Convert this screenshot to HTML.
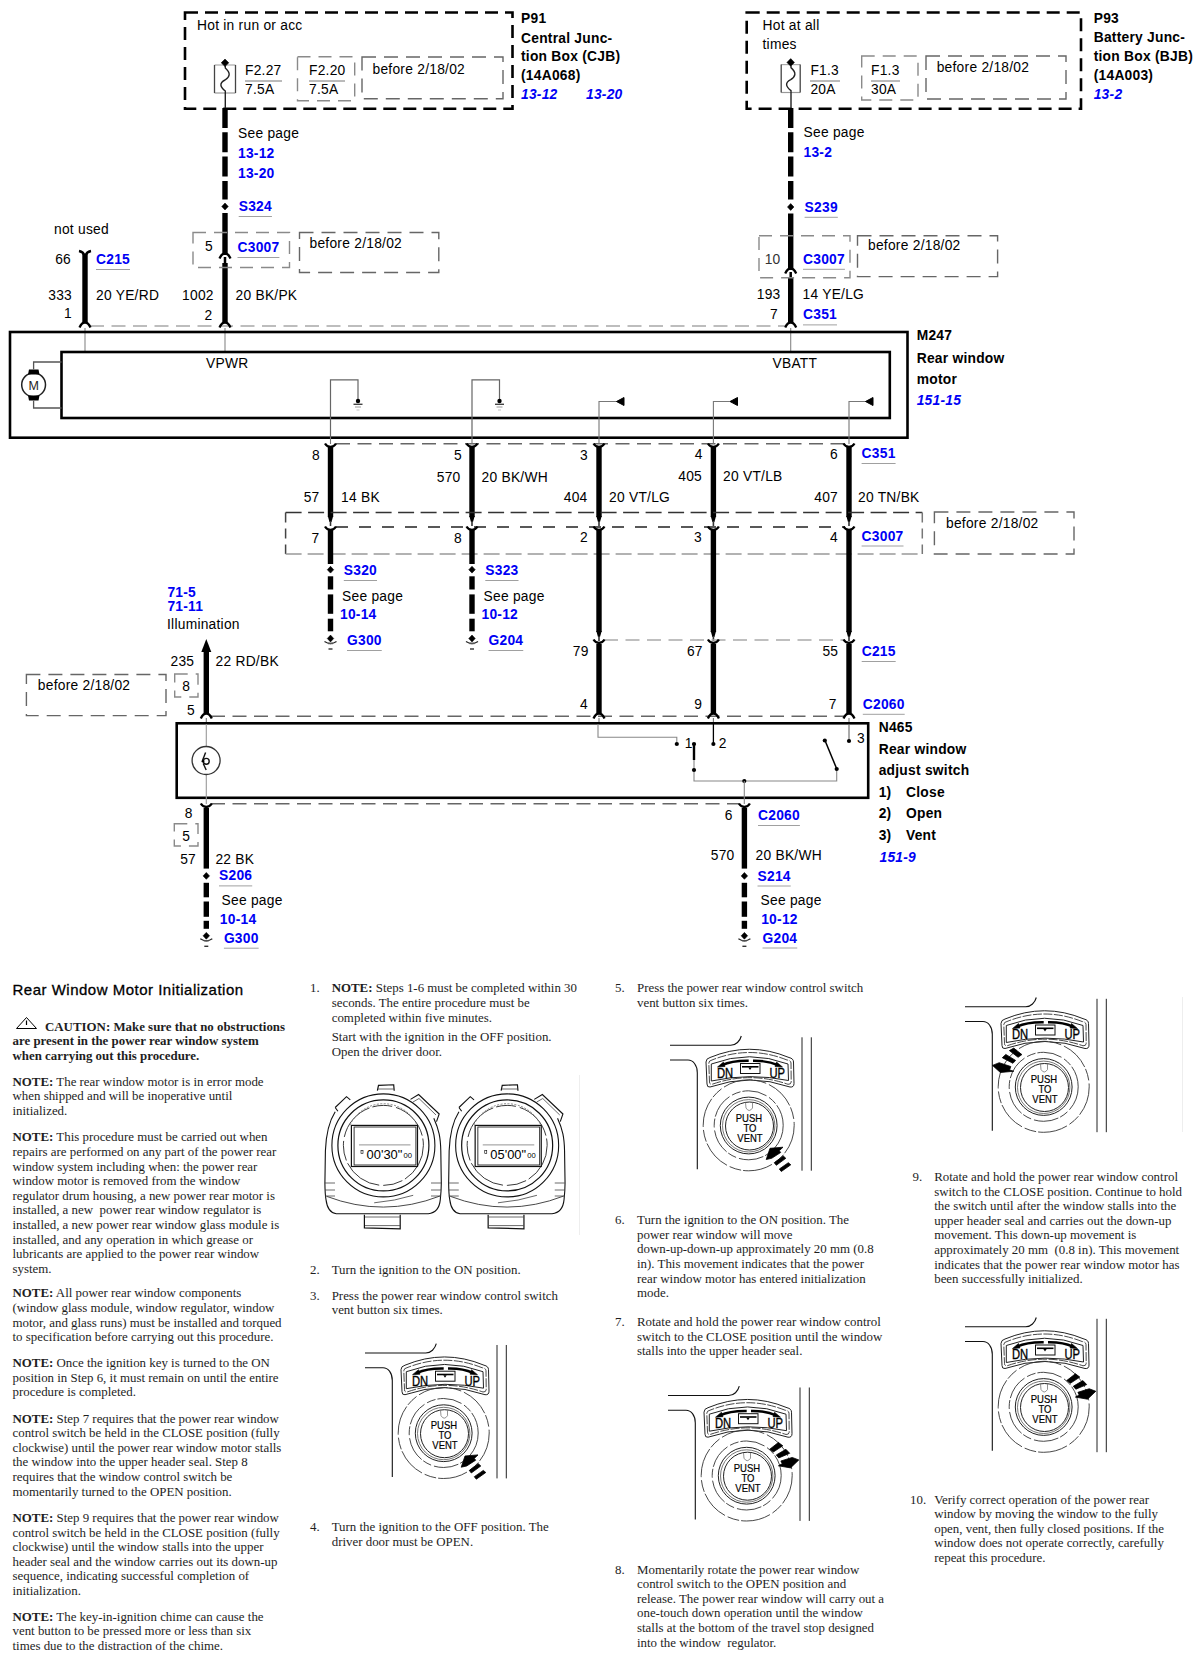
<!DOCTYPE html>
<html><head><meta charset="utf-8"><title>Rear Window Motor</title>
<style>
html,body{margin:0;padding:0;background:#fff;}
body{width:1200px;height:1659px;overflow:hidden;position:relative;}
svg{position:absolute;left:0;top:0;}
text{font-family:"Liberation Sans", sans-serif;}
</style></head><body>
<svg width="1200" height="1659" viewBox="0 0 1200 1659">
<rect x="0" y="0" width="1200" height="1659" fill="#fff"/>
<rect x="185" y="12.5" width="327.5" height="96.3" stroke="#000" stroke-width="2.6" fill="none" stroke-dasharray="13,7"/>
<text x="197" y="30" style="font-size:13.8px;letter-spacing:0.25px">Hot in run or acc</text>
<line x1="214.5" y1="65" x2="235.5" y2="65" stroke="#aaa" stroke-width="1.2"/>
<line x1="214.5" y1="93" x2="235.5" y2="93" stroke="#999" stroke-width="1.2"/>
<line x1="214.5" y1="65" x2="214.5" y2="93" stroke="#444" stroke-width="1.3"/>
<line x1="235.5" y1="65" x2="235.5" y2="93" stroke="#444" stroke-width="1.3"/>
<path d="M225.3,66 L225.3,68 C231,73 230,77 225,80 C219,83 220,87 225.3,91 L225.3,108.5" stroke="#222" stroke-width="1.4" fill="none"/>
<path d="M225,59 L228.8,62.8 L225,66.6 L221.2,62.8 Z" fill="#000" stroke="#000" stroke-width="0.5" stroke-linejoin="round"/>
<text x="245" y="75" style="font-size:13.8px;letter-spacing:0.25px">F2.27</text>
<line x1="245" y1="81" x2="282" y2="81" stroke="#777" stroke-width="1"/>
<text x="245" y="94" style="font-size:13.8px;letter-spacing:0.25px">7.5A</text>
<rect x="297.5" y="56.7" width="57.19999999999999" height="44.099999999999994" stroke="#8a8a8a" stroke-width="1.4" fill="none" stroke-dasharray="13,8"/>
<text x="309" y="75" style="font-size:13.8px;letter-spacing:0.25px">F2.20</text>
<line x1="309" y1="81" x2="345" y2="81" stroke="#777" stroke-width="1"/>
<text x="309" y="94" style="font-size:13.8px;letter-spacing:0.25px">7.5A</text>
<rect x="362" y="57" width="141" height="41.8" stroke="#666" stroke-width="1.4" fill="none" stroke-dasharray="14,8"/>
<text x="372.5" y="73.7" style="font-size:13.8px;letter-spacing:0.25px">before 2/18/02</text>
<text x="521" y="23" style="font-size:13.8px;letter-spacing:0.25px;font-weight:bold">P91</text>
<text x="521" y="42.5" style="font-size:13.8px;letter-spacing:0.25px;font-weight:bold">Central Junc-</text>
<text x="521" y="61" style="font-size:13.8px;letter-spacing:0.25px;font-weight:bold">tion Box (CJB)</text>
<text x="521" y="80" style="font-size:13.8px;letter-spacing:0.25px;font-weight:bold">(14A068)</text>
<text x="521" y="99" fill="#0000f5" style="font-size:13.8px;letter-spacing:0.25px;font-weight:bold;font-style:italic">13-12</text>
<text x="586" y="99" fill="#0000f5" style="font-size:13.8px;letter-spacing:0.25px;font-weight:bold;font-style:italic">13-20</text>
<rect x="746.7" y="12.5" width="334.29999999999995" height="96.3" stroke="#000" stroke-width="2.6" fill="none" stroke-dasharray="13,7"/>
<text x="762.5" y="29.7" style="font-size:13.8px;letter-spacing:0.25px">Hot at all</text>
<text x="762.5" y="48.7" style="font-size:13.8px;letter-spacing:0.25px">times</text>
<line x1="781.2" y1="64.6" x2="800.2" y2="64.6" stroke="#aaa" stroke-width="1.2"/>
<line x1="781.2" y1="92.5" x2="800.2" y2="92.5" stroke="#999" stroke-width="1.2"/>
<line x1="781.2" y1="64.6" x2="781.2" y2="92.5" stroke="#444" stroke-width="1.3"/>
<line x1="800.2" y1="64.6" x2="800.2" y2="92.5" stroke="#444" stroke-width="1.3"/>
<path d="M791.0,65.6 L791.0,67.6 C796.7,72.6 795.7,76.6 790.7,79.6 C784.7,82.6 785.7,86.6 791.0,90.6 L791.0,108.0" stroke="#222" stroke-width="1.4" fill="none"/>
<path d="M790.7,58.599999999999994 L794.5,62.39999999999999 L790.7,66.19999999999999 L786.9000000000001,62.39999999999999 Z" fill="#000" stroke="#000" stroke-width="0.5" stroke-linejoin="round"/>
<text x="810.4" y="75" style="font-size:13.8px;letter-spacing:0.25px">F1.3</text>
<line x1="810" y1="81" x2="840" y2="81" stroke="#777" stroke-width="1"/>
<text x="810.4" y="93.8" style="font-size:13.8px;letter-spacing:0.25px">20A</text>
<rect x="861.7" y="56" width="56.299999999999955" height="44" stroke="#8a8a8a" stroke-width="1.4" fill="none" stroke-dasharray="13,8"/>
<text x="871" y="75" style="font-size:13.8px;letter-spacing:0.25px">F1.3</text>
<line x1="871" y1="81" x2="900" y2="81" stroke="#777" stroke-width="1"/>
<text x="871" y="93.8" style="font-size:13.8px;letter-spacing:0.25px">30A</text>
<rect x="926" y="56" width="140" height="43" stroke="#666" stroke-width="1.4" fill="none" stroke-dasharray="14,8"/>
<text x="936.7" y="71.7" style="font-size:13.8px;letter-spacing:0.25px">before 2/18/02</text>
<text x="1093.7" y="23.2" style="font-size:13.8px;letter-spacing:0.25px;font-weight:bold">P93</text>
<text x="1093.7" y="42" style="font-size:13.8px;letter-spacing:0.25px;font-weight:bold">Battery Junc-</text>
<text x="1093.7" y="60.7" style="font-size:13.8px;letter-spacing:0.25px;font-weight:bold">tion Box (BJB)</text>
<text x="1093.7" y="80.3" style="font-size:13.8px;letter-spacing:0.25px;font-weight:bold">(14A003)</text>
<text x="1093.7" y="99" fill="#0000f5" style="font-size:13.8px;letter-spacing:0.25px;font-weight:bold;font-style:italic">13-2</text>
<line x1="225" y1="108" x2="225" y2="199.5" stroke="#000" stroke-width="5.4" stroke-dasharray="20,4.3"/>
<path d="M225,203.1 L228.2,206.5 L225,209.9 L221.8,206.5 Z" fill="#000" stroke="#000" stroke-width="0.6" stroke-linejoin="round"/>
<line x1="225" y1="213" x2="225" y2="255" stroke="#000" stroke-width="5.4"/>
<path d="M219.5,258.5 C221,255 223.5,253.5 225,253.5 C226.5,253.5 229,255 230.5,258.5" stroke="#000" stroke-width="2.3" fill="none"/>
<line x1="225" y1="257" x2="225" y2="263" stroke="#000" stroke-width="2.5"/>
<line x1="225" y1="263" x2="225" y2="323" stroke="#000" stroke-width="5.4"/>
<text x="238" y="137.5" style="font-size:13.8px;letter-spacing:0.25px">See page</text>
<text x="238" y="157.5" fill="#0000f5" style="font-size:13.8px;letter-spacing:0.25px;font-weight:bold">13-12</text>
<text x="238" y="177.5" fill="#0000f5" style="font-size:13.8px;letter-spacing:0.25px;font-weight:bold">13-20</text>
<text x="238.7" y="211" fill="#0000f5" style="font-size:13.8px;letter-spacing:0.25px;font-weight:bold">S324</text>
<line x1="238.7" y1="216.5" x2="271.92731249999997" y2="216.5" stroke="#a0a0a0" stroke-width="1"/>
<rect x="193" y="232.5" width="96.5" height="35.0" stroke="#8a8a8a" stroke-width="1.4" fill="none" stroke-dasharray="13,8"/>
<text x="205" y="251" style="font-size:13.8px;letter-spacing:0.25px">5</text>
<text x="237.5" y="252" fill="#0000f5" style="font-size:13.8px;letter-spacing:0.25px;font-weight:bold">C3007</text>
<line x1="237.5" y1="257.5" x2="279.41256250000004" y2="257.5" stroke="#a0a0a0" stroke-width="1"/>
<rect x="299.5" y="232.5" width="139.3" height="40.0" stroke="#666" stroke-width="1.4" fill="none" stroke-dasharray="14,8"/>
<text x="309.5" y="247.5" style="font-size:13.8px;letter-spacing:0.25px">before 2/18/02</text>
<text x="213.8" y="300" text-anchor="end" style="font-size:13.8px;letter-spacing:0.25px">1002</text>
<text x="235.5" y="300" style="font-size:13.8px;letter-spacing:0.25px">20 BK/PK</text>
<text x="212.5" y="320" text-anchor="end" style="font-size:13.8px;letter-spacing:0.25px">2</text>
<path d="M79,251 Q84,252 85,257 Q86,252 91,251" stroke="#000" stroke-width="2.4" fill="none"/>
<line x1="85" y1="254" x2="85" y2="323" stroke="#000" stroke-width="5.4"/>
<text x="54" y="233.6" style="font-size:13.8px;letter-spacing:0.25px">not used</text>
<text x="71" y="264" text-anchor="end" style="font-size:13.8px;letter-spacing:0.25px">66</text>
<text x="96" y="264" fill="#0000f5" style="font-size:13.8px;letter-spacing:0.25px;font-weight:bold">C215</text>
<line x1="96" y1="269.5" x2="129.98846875" y2="269.5" stroke="#a0a0a0" stroke-width="1"/>
<text x="72" y="299.6" text-anchor="end" style="font-size:13.8px;letter-spacing:0.25px">333</text>
<text x="96" y="300" style="font-size:13.8px;letter-spacing:0.25px">20 YE/RD</text>
<text x="72" y="318" text-anchor="end" style="font-size:13.8px;letter-spacing:0.25px">1</text>
<line x1="790.7" y1="108" x2="790.7" y2="199.5" stroke="#000" stroke-width="5.4" stroke-dasharray="20,4.3"/>
<path d="M790.7,203.6 L793.9000000000001,207 L790.7,210.4 L787.5,207 Z" fill="#000" stroke="#000" stroke-width="0.6" stroke-linejoin="round"/>
<line x1="790.7" y1="213.5" x2="790.7" y2="270" stroke="#000" stroke-width="5.4"/>
<path d="M785.2,273.5 C786.7,270 789.2,268.5 790.7,268.5 C792.2,268.5 794.7,270 796.2,273.5" stroke="#000" stroke-width="2.3" fill="none"/>
<line x1="790.7" y1="272" x2="790.7" y2="278" stroke="#000" stroke-width="2.5"/>
<line x1="790.7" y1="278" x2="790.7" y2="323" stroke="#000" stroke-width="5.4"/>
<text x="803.5" y="137" style="font-size:13.8px;letter-spacing:0.25px">See page</text>
<text x="803.5" y="157.4" fill="#0000f5" style="font-size:13.8px;letter-spacing:0.25px;font-weight:bold">13-2</text>
<text x="804.6" y="211.8" fill="#0000f5" style="font-size:13.8px;letter-spacing:0.25px;font-weight:bold">S239</text>
<line x1="804.6" y1="217.3" x2="837.8273125000001" y2="217.3" stroke="#a0a0a0" stroke-width="1"/>
<rect x="759" y="235.7" width="91" height="42.10000000000002" stroke="#8a8a8a" stroke-width="1.4" fill="none" stroke-dasharray="13,8"/>
<text x="764.7" y="264.3" fill="#333" style="font-size:13.8px;letter-spacing:0.25px">10</text>
<text x="803" y="263.8" fill="#0000f5" style="font-size:13.8px;letter-spacing:0.25px;font-weight:bold">C3007</text>
<line x1="803" y1="269.3" x2="844.9125625" y2="269.3" stroke="#a0a0a0" stroke-width="1"/>
<rect x="857.5" y="235.7" width="140.10000000000002" height="40.900000000000034" stroke="#666" stroke-width="1.4" fill="none" stroke-dasharray="14,8"/>
<text x="868" y="249.6" style="font-size:13.8px;letter-spacing:0.25px">before 2/18/02</text>
<text x="780.5" y="299" text-anchor="end" style="font-size:13.8px;letter-spacing:0.25px">193</text>
<text x="802.5" y="299" style="font-size:13.8px;letter-spacing:0.25px">14 YE/LG</text>
<text x="778" y="319.4" text-anchor="end" style="font-size:13.8px;letter-spacing:0.25px">7</text>
<text x="803" y="319.4" fill="#0000f5" style="font-size:13.8px;letter-spacing:0.25px;font-weight:bold">C351</text>
<line x1="803" y1="324.9" x2="836.98846875" y2="324.9" stroke="#a0a0a0" stroke-width="1"/>
<line x1="90" y1="326" x2="786" y2="326" stroke="#a8a8a8" stroke-width="1.6" stroke-dasharray="14,7.5"/>
<path d="M79.5,327.5 C81,324 83.5,322.5 85,322.5 C86.5,322.5 89,324 90.5,327.5" stroke="#000" stroke-width="2.3" fill="none"/>
<line x1="85" y1="328" x2="85" y2="352" stroke="#888" stroke-width="1.1"/>
<path d="M219.5,327.5 C221,324 223.5,322.5 225,322.5 C226.5,322.5 229,324 230.5,327.5" stroke="#000" stroke-width="2.3" fill="none"/>
<line x1="225" y1="328" x2="225" y2="352" stroke="#888" stroke-width="1.1"/>
<path d="M785.2,327.5 C786.7,324 789.2,322.5 790.7,322.5 C792.2,322.5 794.7,324 796.2,327.5" stroke="#000" stroke-width="2.3" fill="none"/>
<line x1="790.7" y1="328" x2="790.7" y2="352" stroke="#888" stroke-width="1.1"/>
<rect x="10" y="332" width="897.5" height="105.69999999999999" stroke="#000" stroke-width="2.6" fill="none"/>
<rect x="61.5" y="352" width="828.3" height="66" stroke="#000" stroke-width="2.6" fill="none"/>
<text x="206" y="368" style="font-size:13.8px;letter-spacing:0.25px">VPWR</text>
<text x="772.5" y="368" style="font-size:13.8px;letter-spacing:0.25px">VBATT</text>
<text x="916.7" y="340" style="font-size:13.8px;letter-spacing:0.25px;font-weight:bold">M247</text>
<text x="916.7" y="363" style="font-size:13.8px;letter-spacing:0.25px;font-weight:bold">Rear window</text>
<text x="916.7" y="384" style="font-size:13.8px;letter-spacing:0.25px;font-weight:bold">motor</text>
<text x="916.7" y="405" fill="#0000f5" style="font-size:13.8px;letter-spacing:0.25px;font-weight:bold;font-style:italic">151-15</text>
<circle cx="33.6" cy="384.8" r="11.9" stroke="#222" stroke-width="1.5" fill="none"/>
<text x="33.6" y="390" text-anchor="middle" fill="#222" style="font-size:12.5px;letter-spacing:0px">M</text>
<path d="M29,369.5 L38.5,369.5 L39.5,374.5 L28,374.5 Z" fill="#000"/>
<path d="M28,395.5 L39.5,395.5 L38.5,400.5 L29,400.5 Z" fill="#000"/>
<path d="M33.6,369.5 L33.6,362 L61.5,362" stroke="#555" stroke-width="1.3" fill="none"/>
<path d="M33.6,400.5 L33.6,408 L61.5,408" stroke="#555" stroke-width="1.3" fill="none"/>
<path d="M330.5,437 L330.5,379.9 L358,379.9 L358,399" stroke="#666" stroke-width="1.2" fill="none"/>
<circle cx="358" cy="401" r="2.2" fill="#000"/>
<line x1="353.5" y1="404.3" x2="362.5" y2="404.3" stroke="#444" stroke-width="1.4"/>
<line x1="355" y1="407" x2="361" y2="407" stroke="#aaa" stroke-width="1.2"/>
<line x1="356.5" y1="410" x2="359.5" y2="410" stroke="#ccc" stroke-width="1.2"/>
<path d="M472,437 L472,379.9 L499.5,379.9 L499.5,399" stroke="#666" stroke-width="1.2" fill="none"/>
<circle cx="499.5" cy="401" r="2.2" fill="#000"/>
<line x1="495.0" y1="404.3" x2="504.0" y2="404.3" stroke="#444" stroke-width="1.4"/>
<line x1="496.5" y1="407" x2="502.5" y2="407" stroke="#aaa" stroke-width="1.2"/>
<line x1="498.0" y1="410" x2="501.0" y2="410" stroke="#ccc" stroke-width="1.2"/>
<path d="M599,437 L599,401.5 L618,401.5" stroke="#777" stroke-width="1.1" fill="none"/>
<path d="M616.5,401.5 L624,397.5 L624,405.5 Z" fill="#000" stroke="#000" stroke-width="1" stroke-linejoin="round"/>
<path d="M713.4,437 L713.4,401.5 L731.5,401.5" stroke="#777" stroke-width="1.1" fill="none"/>
<path d="M730.0,401.5 L737.5,397.5 L737.5,405.5 Z" fill="#000" stroke="#000" stroke-width="1" stroke-linejoin="round"/>
<path d="M849,437 L849,401.5 L867,401.5" stroke="#777" stroke-width="1.1" fill="none"/>
<path d="M865.5,401.5 L873,397.5 L873,405.5 Z" fill="#000" stroke="#000" stroke-width="1" stroke-linejoin="round"/>
<line x1="336" y1="443.8" x2="845" y2="443.8" stroke="#666" stroke-width="1.6" stroke-dasharray="14,7.5"/>
<line x1="330.5" y1="437" x2="330.5" y2="444" stroke="#777" stroke-width="1.1"/>
<path d="M325.0,443.5 C326.5,446 329.0,447 330.5,447 C332.0,447 334.5,446 336.0,443.5" stroke="#000" stroke-width="2.3" fill="none"/>
<line x1="472" y1="437" x2="472" y2="444" stroke="#777" stroke-width="1.1"/>
<path d="M466.5,443.5 C468,446 470.5,447 472,447 C473.5,447 476,446 477.5,443.5" stroke="#000" stroke-width="2.3" fill="none"/>
<line x1="599" y1="437" x2="599" y2="444" stroke="#777" stroke-width="1.1"/>
<path d="M593.5,443.5 C595,446 597.5,447 599,447 C600.5,447 603,446 604.5,443.5" stroke="#000" stroke-width="2.3" fill="none"/>
<line x1="713.4" y1="437" x2="713.4" y2="444" stroke="#777" stroke-width="1.1"/>
<path d="M707.9,443.5 C709.4,446 711.9,447 713.4,447 C714.9,447 717.4,446 718.9,443.5" stroke="#000" stroke-width="2.3" fill="none"/>
<line x1="849" y1="437" x2="849" y2="444" stroke="#777" stroke-width="1.1"/>
<path d="M843.5,443.5 C845,446 847.5,447 849,447 C850.5,447 853,446 854.5,443.5" stroke="#000" stroke-width="2.3" fill="none"/>
<text x="320" y="460" text-anchor="end" style="font-size:13.8px;letter-spacing:0.25px">8</text>
<text x="462" y="460" text-anchor="end" style="font-size:13.8px;letter-spacing:0.25px">5</text>
<text x="588" y="460" text-anchor="end" style="font-size:13.8px;letter-spacing:0.25px">3</text>
<text x="702.6" y="459" text-anchor="end" style="font-size:13.8px;letter-spacing:0.25px">4</text>
<text x="838" y="459" text-anchor="end" style="font-size:13.8px;letter-spacing:0.25px">6</text>
<text x="861.6" y="458" fill="#0000f5" style="font-size:13.8px;letter-spacing:0.25px;font-weight:bold">C351</text>
<line x1="861.6" y1="463.5" x2="895.5884687500001" y2="463.5" stroke="#a0a0a0" stroke-width="1"/>
<text x="460.5" y="481.6" text-anchor="end" style="font-size:13.8px;letter-spacing:0.25px">570</text>
<text x="481.5" y="481.6" style="font-size:13.8px;letter-spacing:0.25px">20 BK/WH</text>
<text x="702" y="480.5" text-anchor="end" style="font-size:13.8px;letter-spacing:0.25px">405</text>
<text x="723" y="480.5" style="font-size:13.8px;letter-spacing:0.25px">20 VT/LB</text>
<text x="319.5" y="502" text-anchor="end" style="font-size:13.8px;letter-spacing:0.25px">57</text>
<text x="341" y="502" style="font-size:13.8px;letter-spacing:0.25px">14 BK</text>
<text x="587.5" y="502" text-anchor="end" style="font-size:13.8px;letter-spacing:0.25px">404</text>
<text x="609" y="502" style="font-size:13.8px;letter-spacing:0.25px">20 VT/LG</text>
<text x="838" y="502" text-anchor="end" style="font-size:13.8px;letter-spacing:0.25px">407</text>
<text x="858" y="502" style="font-size:13.8px;letter-spacing:0.25px">20 TN/BK</text>
<line x1="330.5" y1="447" x2="330.5" y2="517" stroke="#000" stroke-width="5.4"/>
<path d="M327.8,516 L333.2,516 L331.5,522 L329.5,522 Z" fill="#000"/>
<line x1="330.5" y1="521" x2="330.5" y2="526" stroke="#333" stroke-width="1.6"/>
<line x1="472" y1="447" x2="472" y2="517" stroke="#000" stroke-width="5.4"/>
<path d="M469.3,516 L474.7,516 L473,522 L471,522 Z" fill="#000"/>
<line x1="472" y1="521" x2="472" y2="526" stroke="#333" stroke-width="1.6"/>
<line x1="599" y1="447" x2="599" y2="517" stroke="#000" stroke-width="5.4"/>
<path d="M596.3,516 L601.7,516 L600,522 L598,522 Z" fill="#000"/>
<line x1="599" y1="521" x2="599" y2="526" stroke="#333" stroke-width="1.6"/>
<line x1="713.4" y1="447" x2="713.4" y2="517" stroke="#000" stroke-width="5.4"/>
<path d="M710.6999999999999,516 L716.1,516 L714.4,522 L712.4,522 Z" fill="#000"/>
<line x1="713.4" y1="521" x2="713.4" y2="526" stroke="#333" stroke-width="1.6"/>
<line x1="849" y1="447" x2="849" y2="517" stroke="#000" stroke-width="5.4"/>
<path d="M846.3,516 L851.7,516 L850,522 L848,522 Z" fill="#000"/>
<line x1="849" y1="521" x2="849" y2="526" stroke="#333" stroke-width="1.6"/>
<line x1="285.6" y1="512.5" x2="922.3" y2="512.5" stroke="#333" stroke-width="1.5" stroke-dasharray="16,6.5"/>
<line x1="285.6" y1="512.5" x2="285.6" y2="554" stroke="#444" stroke-width="1.5" stroke-dasharray="10,6"/>
<line x1="285.6" y1="554" x2="922.3" y2="554" stroke="#999" stroke-width="1.5" stroke-dasharray="16,6"/>
<line x1="922.3" y1="512.5" x2="922.3" y2="554" stroke="#777" stroke-width="1.5" stroke-dasharray="10,6"/>
<line x1="336" y1="527" x2="845" y2="527" stroke="#222" stroke-width="1.5" stroke-dasharray="12,11"/>
<path d="M325.0,526.5 C326.5,529 329.0,530 330.5,530 C332.0,530 334.5,529 336.0,526.5" stroke="#000" stroke-width="2.3" fill="none"/>
<path d="M466.5,526.5 C468,529 470.5,530 472,530 C473.5,530 476,529 477.5,526.5" stroke="#000" stroke-width="2.3" fill="none"/>
<path d="M593.5,526.5 C595,529 597.5,530 599,530 C600.5,530 603,529 604.5,526.5" stroke="#000" stroke-width="2.3" fill="none"/>
<path d="M707.9,526.5 C709.4,529 711.9,530 713.4,530 C714.9,530 717.4,529 718.9,526.5" stroke="#000" stroke-width="2.3" fill="none"/>
<path d="M843.5,526.5 C845,529 847.5,530 849,530 C850.5,530 853,529 854.5,526.5" stroke="#000" stroke-width="2.3" fill="none"/>
<text x="319.5" y="542.5" text-anchor="end" style="font-size:13.8px;letter-spacing:0.25px">7</text>
<text x="462" y="542.5" text-anchor="end" style="font-size:13.8px;letter-spacing:0.25px">8</text>
<text x="588" y="542" text-anchor="end" style="font-size:13.8px;letter-spacing:0.25px">2</text>
<text x="702" y="542" text-anchor="end" style="font-size:13.8px;letter-spacing:0.25px">3</text>
<text x="838" y="542" text-anchor="end" style="font-size:13.8px;letter-spacing:0.25px">4</text>
<text x="861.6" y="540.5" fill="#0000f5" style="font-size:13.8px;letter-spacing:0.25px;font-weight:bold">C3007</text>
<line x1="861.6" y1="546.0" x2="903.5125625000001" y2="546.0" stroke="#a0a0a0" stroke-width="1"/>
<rect x="934.4" y="512" width="139.60000000000002" height="42" stroke="#666" stroke-width="1.4" fill="none" stroke-dasharray="14,8"/>
<text x="946" y="527.5" style="font-size:13.8px;letter-spacing:0.25px">before 2/18/02</text>
<line x1="330.5" y1="530" x2="330.5" y2="564" stroke="#000" stroke-width="5.4"/>
<path d="M330.5,566.3000000000001 L333.7,569.7 L330.5,573.1 L327.3,569.7 Z" fill="#000" stroke="#000" stroke-width="0.6" stroke-linejoin="round"/>
<line x1="330.5" y1="576.3" x2="330.5" y2="589.5" stroke="#000" stroke-width="5.4"/>
<line x1="330.5" y1="594.4" x2="330.5" y2="613.8" stroke="#000" stroke-width="5.4"/>
<line x1="330.5" y1="618.7" x2="330.5" y2="631.3" stroke="#000" stroke-width="5.4"/>
<path d="M330.5,635.1 L333.7,638.5 L330.5,641.9 L327.3,638.5 Z" fill="#000" stroke="#000" stroke-width="0.6" stroke-linejoin="round"/>
<path d="M324.5,641.5 Q330.5,645.5 336.5,641.5" stroke="#222" stroke-width="1.3" fill="none"/>
<line x1="328.0" y1="643.5" x2="333.0" y2="643.5" stroke="#555" stroke-width="1.4"/>
<line x1="328.5" y1="649.0" x2="332.5" y2="649.0" stroke="#333" stroke-width="1.4"/>
<text x="343.8" y="575" fill="#0000f5" style="font-size:13.8px;letter-spacing:0.25px;font-weight:bold">S320</text>
<line x1="343.8" y1="580.5" x2="377.0273125" y2="580.5" stroke="#a0a0a0" stroke-width="1"/>
<text x="342.0" y="600.7" style="font-size:13.8px;letter-spacing:0.25px">See page</text>
<text x="340.0" y="619" fill="#0000f5" style="font-size:13.8px;letter-spacing:0.25px;font-weight:bold">10-14</text>
<text x="347.0" y="645" fill="#0000f5" style="font-size:13.8px;letter-spacing:0.25px;font-weight:bold">G300</text>
<line x1="347.0" y1="650.5" x2="381.75609375" y2="650.5" stroke="#a0a0a0" stroke-width="1"/>
<line x1="472" y1="530" x2="472" y2="564" stroke="#000" stroke-width="5.4"/>
<path d="M472,566.3000000000001 L475.2,569.7 L472,573.1 L468.8,569.7 Z" fill="#000" stroke="#000" stroke-width="0.6" stroke-linejoin="round"/>
<line x1="472" y1="576.3" x2="472" y2="589.5" stroke="#000" stroke-width="5.4"/>
<line x1="472" y1="594.4" x2="472" y2="613.8" stroke="#000" stroke-width="5.4"/>
<line x1="472" y1="618.7" x2="472" y2="631.3" stroke="#000" stroke-width="5.4"/>
<path d="M472,635.1 L475.2,638.5 L472,641.9 L468.8,638.5 Z" fill="#000" stroke="#000" stroke-width="0.6" stroke-linejoin="round"/>
<path d="M466,641.5 Q472,645.5 478,641.5" stroke="#222" stroke-width="1.3" fill="none"/>
<line x1="469.5" y1="643.5" x2="474.5" y2="643.5" stroke="#555" stroke-width="1.4"/>
<line x1="470" y1="649.0" x2="474" y2="649.0" stroke="#333" stroke-width="1.4"/>
<text x="485.3" y="575" fill="#0000f5" style="font-size:13.8px;letter-spacing:0.25px;font-weight:bold">S323</text>
<line x1="485.3" y1="580.5" x2="518.5273125" y2="580.5" stroke="#a0a0a0" stroke-width="1"/>
<text x="483.5" y="600.7" style="font-size:13.8px;letter-spacing:0.25px">See page</text>
<text x="481.5" y="619" fill="#0000f5" style="font-size:13.8px;letter-spacing:0.25px;font-weight:bold">10-12</text>
<text x="488.5" y="645" fill="#0000f5" style="font-size:13.8px;letter-spacing:0.25px;font-weight:bold">G204</text>
<line x1="488.5" y1="650.5" x2="523.25609375" y2="650.5" stroke="#a0a0a0" stroke-width="1"/>
<line x1="599" y1="530" x2="599" y2="632" stroke="#000" stroke-width="5.4"/>
<path d="M596.3,631 L601.7,631 L600,637 L598,637 Z" fill="#000"/>
<line x1="599" y1="636" x2="599" y2="641" stroke="#333" stroke-width="1.6"/>
<line x1="713.4" y1="530" x2="713.4" y2="632" stroke="#000" stroke-width="5.4"/>
<path d="M710.6999999999999,631 L716.1,631 L714.4,637 L712.4,637 Z" fill="#000"/>
<line x1="713.4" y1="636" x2="713.4" y2="641" stroke="#333" stroke-width="1.6"/>
<line x1="849" y1="530" x2="849" y2="632" stroke="#000" stroke-width="5.4"/>
<path d="M846.3,631 L851.7,631 L850,637 L848,637 Z" fill="#000"/>
<line x1="849" y1="636" x2="849" y2="641" stroke="#333" stroke-width="1.6"/>
<line x1="604" y1="640" x2="845" y2="640" stroke="#aaa" stroke-width="1.6" stroke-dasharray="14,7.5"/>
<path d="M593.5,639.5 C595,642 597.5,643 599,643 C600.5,643 603,642 604.5,639.5" stroke="#000" stroke-width="2.3" fill="none"/>
<line x1="599" y1="644" x2="599" y2="713" stroke="#000" stroke-width="5.4"/>
<path d="M707.9,639.5 C709.4,642 711.9,643 713.4,643 C714.9,643 717.4,642 718.9,639.5" stroke="#000" stroke-width="2.3" fill="none"/>
<line x1="713.4" y1="644" x2="713.4" y2="713" stroke="#000" stroke-width="5.4"/>
<path d="M843.5,639.5 C845,642 847.5,643 849,643 C850.5,643 853,642 854.5,639.5" stroke="#000" stroke-width="2.3" fill="none"/>
<line x1="849" y1="644" x2="849" y2="713" stroke="#000" stroke-width="5.4"/>
<text x="588.7" y="656.3" text-anchor="end" style="font-size:13.8px;letter-spacing:0.25px">79</text>
<text x="702.8" y="656.3" text-anchor="end" style="font-size:13.8px;letter-spacing:0.25px">67</text>
<text x="838.3" y="656.3" text-anchor="end" style="font-size:13.8px;letter-spacing:0.25px">55</text>
<text x="861.7" y="656" fill="#0000f5" style="font-size:13.8px;letter-spacing:0.25px;font-weight:bold">C215</text>
<line x1="861.7" y1="661.5" x2="895.6884687500001" y2="661.5" stroke="#a0a0a0" stroke-width="1"/>
<text x="588" y="708.8" text-anchor="end" style="font-size:13.8px;letter-spacing:0.25px">4</text>
<text x="702.3" y="708.8" text-anchor="end" style="font-size:13.8px;letter-spacing:0.25px">9</text>
<text x="836.7" y="708.8" text-anchor="end" style="font-size:13.8px;letter-spacing:0.25px">7</text>
<text x="862.8" y="708.8" fill="#0000f5" style="font-size:13.8px;letter-spacing:0.25px;font-weight:bold">C2060</text>
<line x1="862.8" y1="714.3" x2="904.7125625" y2="714.3" stroke="#a0a0a0" stroke-width="1"/>
<path d="M206.3,639 L211.3,652 L201.3,652 Z" fill="#000"/>
<line x1="206.3" y1="650" x2="206.3" y2="713" stroke="#000" stroke-width="5.4"/>
<text x="167.4" y="596.5" fill="#0000f5" style="font-size:13.8px;letter-spacing:0.25px;font-weight:bold">71-5</text>
<text x="167.4" y="611" fill="#0000f5" style="font-size:13.8px;letter-spacing:0.25px;font-weight:bold">71-11</text>
<text x="167" y="629" style="font-size:13.8px;letter-spacing:0.25px">Illumination</text>
<text x="194.3" y="665.6" text-anchor="end" style="font-size:13.8px;letter-spacing:0.25px">235</text>
<text x="215.5" y="665.6" style="font-size:13.8px;letter-spacing:0.25px">22 RD/BK</text>
<rect x="174.7" y="674" width="23.30000000000001" height="23" stroke="#8a8a8a" stroke-width="1.4" fill="none" stroke-dasharray="13,8"/>
<text x="186.3" y="690.5" text-anchor="middle" style="font-size:13.8px;letter-spacing:0.25px">8</text>
<text x="195" y="714.7" text-anchor="end" style="font-size:13.8px;letter-spacing:0.25px">5</text>
<rect x="26.4" y="674.5" width="139.6" height="41.10000000000002" stroke="#666" stroke-width="1.4" fill="none" stroke-dasharray="14,8"/>
<text x="37.8" y="690.2" style="font-size:13.8px;letter-spacing:0.25px">before 2/18/02</text>
<line x1="211" y1="716.3" x2="845" y2="716.3" stroke="#666" stroke-width="1.6" stroke-dasharray="14,7.5"/>
<path d="M200.8,718.5 C202.3,715 204.8,713.5 206.3,713.5 C207.8,713.5 210.3,715 211.8,718.5" stroke="#000" stroke-width="2.3" fill="none"/>
<line x1="206.3" y1="718" x2="206.3" y2="724" stroke="#777" stroke-width="1.1"/>
<path d="M593.5,718.5 C595,715 597.5,713.5 599,713.5 C600.5,713.5 603,715 604.5,718.5" stroke="#000" stroke-width="2.3" fill="none"/>
<line x1="599" y1="718" x2="599" y2="724" stroke="#777" stroke-width="1.1"/>
<path d="M707.9,718.5 C709.4,715 711.9,713.5 713.4,713.5 C714.9,713.5 717.4,715 718.9,718.5" stroke="#000" stroke-width="2.3" fill="none"/>
<line x1="713.4" y1="718" x2="713.4" y2="724" stroke="#777" stroke-width="1.1"/>
<path d="M843.5,718.5 C845,715 847.5,713.5 849,713.5 C850.5,713.5 853,715 854.5,718.5" stroke="#000" stroke-width="2.3" fill="none"/>
<line x1="849" y1="718" x2="849" y2="724" stroke="#777" stroke-width="1.1"/>
<rect x="176.7" y="723.3" width="691.5" height="74.5" stroke="#000" stroke-width="2.6" fill="none"/>
<line x1="206.3" y1="724" x2="206.3" y2="746.5" stroke="#999" stroke-width="1.1"/>
<line x1="206.3" y1="774.5" x2="206.3" y2="804" stroke="#999" stroke-width="1.1"/>
<circle cx="206.1" cy="760.5" r="14" stroke="#333" stroke-width="1.3" fill="none"/>
<path d="M205.6,752.4 L202.4,760.8" stroke="#111" stroke-width="1.4" fill="none"/>
<path d="M203.2,763.5 L206.2,770" stroke="#111" stroke-width="1.4" fill="none"/>
<circle cx="206.3" cy="761.3" r="2.9" stroke="#111" stroke-width="1.4" fill="none"/>
<circle cx="202.9" cy="761.2" r="1.3" fill="#000"/>
<text x="878.7" y="732" style="font-size:13.8px;letter-spacing:0.25px;font-weight:bold">N465</text>
<text x="878.7" y="753.5" style="font-size:13.8px;letter-spacing:0.25px;font-weight:bold">Rear window</text>
<text x="878.7" y="775" style="font-size:13.8px;letter-spacing:0.25px;font-weight:bold">adjust switch</text>
<text x="878.7" y="796.8" style="font-size:13.8px;letter-spacing:0.25px;font-weight:bold">1)</text>
<text x="906" y="796.8" style="font-size:13.8px;letter-spacing:0.25px;font-weight:bold">Close</text>
<text x="878.7" y="817.8" style="font-size:13.8px;letter-spacing:0.25px;font-weight:bold">2)</text>
<text x="906" y="817.8" style="font-size:13.8px;letter-spacing:0.25px;font-weight:bold">Open</text>
<text x="878.7" y="840" style="font-size:13.8px;letter-spacing:0.25px;font-weight:bold">3)</text>
<text x="906" y="840" style="font-size:13.8px;letter-spacing:0.25px;font-weight:bold">Vent</text>
<text x="879.5" y="862" fill="#0000f5" style="font-size:13.8px;letter-spacing:0.25px;font-weight:bold;font-style:italic">151-9</text>
<path d="M598,724 L598,737.3 L676.8,737.3 L676.8,744" stroke="#888" stroke-width="1.1" fill="none"/>
<circle cx="676.8" cy="744" r="2.1" fill="#000"/>
<text x="684.8" y="747.5" style="font-size:13.8px;letter-spacing:0.25px">1</text>
<line x1="713.4" y1="724" x2="713.4" y2="744" stroke="#000" stroke-width="1.3"/>
<circle cx="713.4" cy="744" r="2.1" fill="#000"/>
<text x="718.8" y="747.5" style="font-size:13.8px;letter-spacing:0.25px">2</text>
<line x1="694" y1="744" x2="694" y2="760" stroke="#000" stroke-width="2.4"/>
<circle cx="694" cy="744" r="2.1" fill="#000"/>
<path d="M694,760 L694,781 L836.7,781 L836.7,769" stroke="#888" stroke-width="1.1" fill="none"/>
<circle cx="694" cy="770" r="2.1" fill="#000"/>
<circle cx="836.7" cy="769" r="2.1" fill="#000"/>
<circle cx="744.3" cy="781" r="2.1" fill="#000"/>
<line x1="824.8" y1="740" x2="836.7" y2="768.8" stroke="#000" stroke-width="1.5"/>
<circle cx="824.8" cy="740.5" r="2.1" fill="#000"/>
<line x1="849" y1="724" x2="849" y2="741" stroke="#666" stroke-width="1.1"/>
<circle cx="849" cy="741" r="2.1" fill="#000"/>
<text x="857" y="742.5" style="font-size:13.8px;letter-spacing:0.25px">3</text>
<line x1="744.3" y1="781" x2="744.3" y2="804" stroke="#888" stroke-width="1.1"/>
<line x1="211" y1="803.8" x2="739" y2="803.8" stroke="#666" stroke-width="1.6" stroke-dasharray="14,7.5"/>
<path d="M200.8,803.5 C202.3,806 204.8,807 206.3,807 C207.8,807 210.3,806 211.8,803.5" stroke="#000" stroke-width="2.3" fill="none"/>
<line x1="206.3" y1="808" x2="206.3" y2="868.6" stroke="#000" stroke-width="5.4"/>
<path d="M206.3,872.5 L209.5,875.9 L206.3,879.3 L203.10000000000002,875.9 Z" fill="#000" stroke="#000" stroke-width="0.6" stroke-linejoin="round"/>
<line x1="206.3" y1="882.8" x2="206.3" y2="897.3" stroke="#000" stroke-width="5.4"/>
<line x1="206.3" y1="901.5" x2="206.3" y2="916.8" stroke="#000" stroke-width="5.4"/>
<line x1="206.3" y1="920.8" x2="206.3" y2="928.8" stroke="#000" stroke-width="5.4"/>
<path d="M206.3,932.4 L209.5,935.8 L206.3,939.1999999999999 L203.10000000000002,935.8 Z" fill="#000" stroke="#000" stroke-width="0.6" stroke-linejoin="round"/>
<path d="M200.3,938.8 Q206.3,942.8 212.3,938.8" stroke="#222" stroke-width="1.3" fill="none"/>
<line x1="203.8" y1="940.8" x2="208.8" y2="940.8" stroke="#555" stroke-width="1.4"/>
<line x1="204.3" y1="946.3" x2="208.3" y2="946.3" stroke="#333" stroke-width="1.4"/>
<path d="M738.9,803.5 C740.4,806 742.9,807 744.4,807 C745.9,807 748.4,806 749.9,803.5" stroke="#000" stroke-width="2.3" fill="none"/>
<line x1="744.4" y1="808" x2="744.4" y2="868.6" stroke="#000" stroke-width="5.4"/>
<path d="M744.4,872.5 L747.6,875.9 L744.4,879.3 L741.1999999999999,875.9 Z" fill="#000" stroke="#000" stroke-width="0.6" stroke-linejoin="round"/>
<line x1="744.4" y1="882.8" x2="744.4" y2="897.3" stroke="#000" stroke-width="5.4"/>
<line x1="744.4" y1="901.5" x2="744.4" y2="916.8" stroke="#000" stroke-width="5.4"/>
<line x1="744.4" y1="920.8" x2="744.4" y2="928.8" stroke="#000" stroke-width="5.4"/>
<path d="M744.4,932.4 L747.6,935.8 L744.4,939.1999999999999 L741.1999999999999,935.8 Z" fill="#000" stroke="#000" stroke-width="0.6" stroke-linejoin="round"/>
<path d="M738.4,938.8 Q744.4,942.8 750.4,938.8" stroke="#222" stroke-width="1.3" fill="none"/>
<line x1="741.9" y1="940.8" x2="746.9" y2="940.8" stroke="#555" stroke-width="1.4"/>
<line x1="742.4" y1="946.3" x2="746.4" y2="946.3" stroke="#333" stroke-width="1.4"/>
<text x="188.8" y="817.6" text-anchor="middle" style="font-size:13.8px;letter-spacing:0.25px">8</text>
<rect x="174.3" y="823.8" width="23.69999999999999" height="22.200000000000045" stroke="#8a8a8a" stroke-width="1.4" fill="none" stroke-dasharray="13,8"/>
<text x="186.2" y="841" text-anchor="middle" style="font-size:13.8px;letter-spacing:0.25px">5</text>
<text x="196" y="864" text-anchor="end" style="font-size:13.8px;letter-spacing:0.25px">57</text>
<text x="215.4" y="864" style="font-size:13.8px;letter-spacing:0.25px">22 BK</text>
<text x="219" y="880.4" fill="#0000f5" style="font-size:13.8px;letter-spacing:0.25px;font-weight:bold">S206</text>
<line x1="219" y1="885.9" x2="252.2273125" y2="885.9" stroke="#a0a0a0" stroke-width="1"/>
<text x="221.5" y="904.6" style="font-size:13.8px;letter-spacing:0.25px">See page</text>
<text x="219.8" y="924" fill="#0000f5" style="font-size:13.8px;letter-spacing:0.25px;font-weight:bold">10-14</text>
<text x="223.9" y="942.7" fill="#0000f5" style="font-size:13.8px;letter-spacing:0.25px;font-weight:bold">G300</text>
<line x1="223.9" y1="948.2" x2="258.65609375" y2="948.2" stroke="#a0a0a0" stroke-width="1"/>
<text x="732.8" y="819.5" text-anchor="end" style="font-size:13.8px;letter-spacing:0.25px">6</text>
<text x="758" y="820" fill="#0000f5" style="font-size:13.8px;letter-spacing:0.25px;font-weight:bold">C2060</text>
<line x1="758" y1="825.5" x2="799.9125625" y2="825.5" stroke="#a0a0a0" stroke-width="1"/>
<text x="734.5" y="860" text-anchor="end" style="font-size:13.8px;letter-spacing:0.25px">570</text>
<text x="755.5" y="860" style="font-size:13.8px;letter-spacing:0.25px">20 BK/WH</text>
<text x="757.5" y="880.5" fill="#0000f5" style="font-size:13.8px;letter-spacing:0.25px;font-weight:bold">S214</text>
<line x1="757.5" y1="886.0" x2="790.7273125" y2="886.0" stroke="#a0a0a0" stroke-width="1"/>
<text x="760.5" y="904.5" style="font-size:13.8px;letter-spacing:0.25px">See page</text>
<text x="761.2" y="924" fill="#0000f5" style="font-size:13.8px;letter-spacing:0.25px;font-weight:bold">10-12</text>
<text x="762.5" y="942.5" fill="#0000f5" style="font-size:13.8px;letter-spacing:0.25px;font-weight:bold">G204</text>
<line x1="762.5" y1="948.0" x2="797.25609375" y2="948.0" stroke="#a0a0a0" stroke-width="1"/>
<text x="12.5" y="994.5" style="font-size:15px;letter-spacing:0.5px;stroke:#000;stroke-width:0.3">Rear Window Motor Initialization</text>
<path d="M16.5,1028.5 L26.5,1017.5 L36.5,1028.5 Z" fill="none" stroke="#000" stroke-width="1"/>
<line x1="26.5" y1="1020.5" x2="26.5" y2="1025" stroke="#000" stroke-width="1.2"/>
<text x="45" y="1030.75" fill="#1e1e1e" style='font-family:"Liberation Serif", serif;font-size:12.9px;font-weight:bold'>CAUTION: Make sure that no obstructions</text>
<text x="12.5" y="1045.3" fill="#1e1e1e" style='font-family:"Liberation Serif", serif;font-size:12.9px;font-weight:bold'>are present in the power rear window system</text>
<text x="12.5" y="1059.8" fill="#1e1e1e" style='font-family:"Liberation Serif", serif;font-size:12.9px;font-weight:bold'>when carrying out this procedure.</text>
<text x="12.5" y="1085.5" fill="#1e1e1e" style='font-family:"Liberation Serif", serif;font-size:12.9px'><tspan font-weight="bold">NOTE:</tspan> The rear window motor is in error mode</text>
<text x="12.5" y="1100.1" fill="#1e1e1e" style='font-family:"Liberation Serif", serif;font-size:12.9px'>when shipped and will be inoperative until</text>
<text x="12.5" y="1114.7" fill="#1e1e1e" style='font-family:"Liberation Serif", serif;font-size:12.9px'>initialized.</text>
<text x="12.5" y="1141.3" fill="#1e1e1e" style='font-family:"Liberation Serif", serif;font-size:12.9px'><tspan font-weight="bold">NOTE:</tspan> This procedure must be carried out when</text>
<text x="12.5" y="1155.9" fill="#1e1e1e" style='font-family:"Liberation Serif", serif;font-size:12.9px'>repairs are performed on any part of the power rear</text>
<text x="12.5" y="1170.5" fill="#1e1e1e" style='font-family:"Liberation Serif", serif;font-size:12.9px'>window system including when: the power rear</text>
<text x="12.5" y="1185.1" fill="#1e1e1e" style='font-family:"Liberation Serif", serif;font-size:12.9px'>window motor is removed from the window</text>
<text x="12.5" y="1199.7" fill="#1e1e1e" style='font-family:"Liberation Serif", serif;font-size:12.9px'>regulator drum housing, a new power rear motor is</text>
<text x="12.5" y="1214.3" fill="#1e1e1e" style='font-family:"Liberation Serif", serif;font-size:12.9px'>installed, a new  power rear window regulator is</text>
<text x="12.5" y="1228.9" fill="#1e1e1e" style='font-family:"Liberation Serif", serif;font-size:12.9px'>installed, a new power rear window glass module is</text>
<text x="12.5" y="1243.5" fill="#1e1e1e" style='font-family:"Liberation Serif", serif;font-size:12.9px'>installed, and any operation in which grease or</text>
<text x="12.5" y="1258.1" fill="#1e1e1e" style='font-family:"Liberation Serif", serif;font-size:12.9px'>lubricants are applied to the power rear window</text>
<text x="12.5" y="1272.7" fill="#1e1e1e" style='font-family:"Liberation Serif", serif;font-size:12.9px'>system.</text>
<text x="12.5" y="1297.3" fill="#1e1e1e" style='font-family:"Liberation Serif", serif;font-size:12.9px'><tspan font-weight="bold">NOTE:</tspan> All power rear window components</text>
<text x="12.5" y="1311.9" fill="#1e1e1e" style='font-family:"Liberation Serif", serif;font-size:12.9px'>(window glass module, window regulator, window</text>
<text x="12.5" y="1326.5" fill="#1e1e1e" style='font-family:"Liberation Serif", serif;font-size:12.9px'>motor, and glass runs) must be installed and torqued</text>
<text x="12.5" y="1341.1" fill="#1e1e1e" style='font-family:"Liberation Serif", serif;font-size:12.9px'>to specification before carrying out this procedure.</text>
<text x="12.5" y="1367" fill="#1e1e1e" style='font-family:"Liberation Serif", serif;font-size:12.9px'><tspan font-weight="bold">NOTE:</tspan> Once the ignition key is turned to the ON</text>
<text x="12.5" y="1381.6" fill="#1e1e1e" style='font-family:"Liberation Serif", serif;font-size:12.9px'>position in Step 6, it must remain on until the entire</text>
<text x="12.5" y="1396.2" fill="#1e1e1e" style='font-family:"Liberation Serif", serif;font-size:12.9px'>procedure is completed.</text>
<text x="12.5" y="1422.5" fill="#1e1e1e" style='font-family:"Liberation Serif", serif;font-size:12.9px'><tspan font-weight="bold">NOTE:</tspan> Step 7 requires that the power rear window</text>
<text x="12.5" y="1437.1" fill="#1e1e1e" style='font-family:"Liberation Serif", serif;font-size:12.9px'>control switch be held in the CLOSE position (fully</text>
<text x="12.5" y="1451.7" fill="#1e1e1e" style='font-family:"Liberation Serif", serif;font-size:12.9px'>clockwise) until the power rear window motor stalls</text>
<text x="12.5" y="1466.3" fill="#1e1e1e" style='font-family:"Liberation Serif", serif;font-size:12.9px'>the window into the upper header seal. Step 8</text>
<text x="12.5" y="1480.9" fill="#1e1e1e" style='font-family:"Liberation Serif", serif;font-size:12.9px'>requires that the window control switch be</text>
<text x="12.5" y="1495.5" fill="#1e1e1e" style='font-family:"Liberation Serif", serif;font-size:12.9px'>momentarily turned to the OPEN position.</text>
<text x="12.5" y="1522" fill="#1e1e1e" style='font-family:"Liberation Serif", serif;font-size:12.9px'><tspan font-weight="bold">NOTE:</tspan> Step 9 requires that the power rear window</text>
<text x="12.5" y="1536.6" fill="#1e1e1e" style='font-family:"Liberation Serif", serif;font-size:12.9px'>control switch be held in the CLOSE position (fully</text>
<text x="12.5" y="1551.2" fill="#1e1e1e" style='font-family:"Liberation Serif", serif;font-size:12.9px'>clockwise) until the window stalls into the upper</text>
<text x="12.5" y="1565.8" fill="#1e1e1e" style='font-family:"Liberation Serif", serif;font-size:12.9px'>header seal and the window carries out its down-up</text>
<text x="12.5" y="1580.4" fill="#1e1e1e" style='font-family:"Liberation Serif", serif;font-size:12.9px'>sequence, indicating successful completion of</text>
<text x="12.5" y="1595.0" fill="#1e1e1e" style='font-family:"Liberation Serif", serif;font-size:12.9px'>initialization.</text>
<text x="12.5" y="1620.8" fill="#1e1e1e" style='font-family:"Liberation Serif", serif;font-size:12.9px'><tspan font-weight="bold">NOTE:</tspan> The key-in-ignition chime can cause the</text>
<text x="12.5" y="1635.4" fill="#1e1e1e" style='font-family:"Liberation Serif", serif;font-size:12.9px'>vent button to be pressed more or less than six</text>
<text x="12.5" y="1650.0" fill="#1e1e1e" style='font-family:"Liberation Serif", serif;font-size:12.9px'>times due to the distraction of the chime.</text>
<text x="310" y="992.3" fill="#1e1e1e" style='font-family:"Liberation Serif", serif;font-size:12.9px'>1.</text>
<text x="331.7" y="992.3" fill="#1e1e1e" style='font-family:"Liberation Serif", serif;font-size:12.9px'><tspan font-weight="bold">NOTE:</tspan> Steps 1-6 must be completed within 30</text>
<text x="331.7" y="1006.9" fill="#1e1e1e" style='font-family:"Liberation Serif", serif;font-size:12.9px'>seconds. The entire procedure must be</text>
<text x="331.7" y="1021.5" fill="#1e1e1e" style='font-family:"Liberation Serif", serif;font-size:12.9px'>completed within five minutes.</text>
<text x="331.7" y="1041.0" fill="#1e1e1e" style='font-family:"Liberation Serif", serif;font-size:12.9px'>Start with the ignition in the OFF position.</text>
<text x="331.7" y="1055.6" fill="#1e1e1e" style='font-family:"Liberation Serif", serif;font-size:12.9px'>Open the driver door.</text>
<text x="310" y="1273.5" fill="#1e1e1e" style='font-family:"Liberation Serif", serif;font-size:12.9px'>2.</text>
<text x="331.7" y="1273.5" fill="#1e1e1e" style='font-family:"Liberation Serif", serif;font-size:12.9px'>Turn the ignition to the ON position.</text>
<text x="310" y="1299.8" fill="#1e1e1e" style='font-family:"Liberation Serif", serif;font-size:12.9px'>3.</text>
<text x="331.7" y="1299.8" fill="#1e1e1e" style='font-family:"Liberation Serif", serif;font-size:12.9px'>Press the power rear window control switch</text>
<text x="331.7" y="1314.4" fill="#1e1e1e" style='font-family:"Liberation Serif", serif;font-size:12.9px'>vent button six times.</text>
<text x="310" y="1531.0" fill="#1e1e1e" style='font-family:"Liberation Serif", serif;font-size:12.9px'>4.</text>
<text x="331.7" y="1531.0" fill="#1e1e1e" style='font-family:"Liberation Serif", serif;font-size:12.9px'>Turn the ignition to the OFF position. The</text>
<text x="331.7" y="1545.6" fill="#1e1e1e" style='font-family:"Liberation Serif", serif;font-size:12.9px'>driver door must be OPEN.</text>
<text x="615" y="992.3" fill="#1e1e1e" style='font-family:"Liberation Serif", serif;font-size:12.9px'>5.</text>
<text x="637" y="992.3" fill="#1e1e1e" style='font-family:"Liberation Serif", serif;font-size:12.9px'>Press the power rear window control switch</text>
<text x="637" y="1006.9" fill="#1e1e1e" style='font-family:"Liberation Serif", serif;font-size:12.9px'>vent button six times.</text>
<text x="615" y="1224.1" fill="#1e1e1e" style='font-family:"Liberation Serif", serif;font-size:12.9px'>6.</text>
<text x="637" y="1224.1" fill="#1e1e1e" style='font-family:"Liberation Serif", serif;font-size:12.9px'>Turn the ignition to the ON position. The</text>
<text x="637" y="1238.7" fill="#1e1e1e" style='font-family:"Liberation Serif", serif;font-size:12.9px'>power rear window will move</text>
<text x="637" y="1253.3" fill="#1e1e1e" style='font-family:"Liberation Serif", serif;font-size:12.9px'>down-up-down-up approximately 20 mm (0.8</text>
<text x="637" y="1267.9" fill="#1e1e1e" style='font-family:"Liberation Serif", serif;font-size:12.9px'>in). This movement indicates that the power</text>
<text x="637" y="1282.5" fill="#1e1e1e" style='font-family:"Liberation Serif", serif;font-size:12.9px'>rear window motor has entered initialization</text>
<text x="637" y="1297.1" fill="#1e1e1e" style='font-family:"Liberation Serif", serif;font-size:12.9px'>mode.</text>
<text x="615" y="1326.0" fill="#1e1e1e" style='font-family:"Liberation Serif", serif;font-size:12.9px'>7.</text>
<text x="637" y="1326.0" fill="#1e1e1e" style='font-family:"Liberation Serif", serif;font-size:12.9px'>Rotate and hold the power rear window control</text>
<text x="637" y="1340.6" fill="#1e1e1e" style='font-family:"Liberation Serif", serif;font-size:12.9px'>switch to the CLOSE position until the window</text>
<text x="637" y="1355.2" fill="#1e1e1e" style='font-family:"Liberation Serif", serif;font-size:12.9px'>stalls into the upper header seal.</text>
<text x="615" y="1573.5" fill="#1e1e1e" style='font-family:"Liberation Serif", serif;font-size:12.9px'>8.</text>
<text x="637" y="1573.5" fill="#1e1e1e" style='font-family:"Liberation Serif", serif;font-size:12.9px'>Momentarily rotate the power rear window</text>
<text x="637" y="1588.1" fill="#1e1e1e" style='font-family:"Liberation Serif", serif;font-size:12.9px'>control switch to the OPEN position and</text>
<text x="637" y="1602.7" fill="#1e1e1e" style='font-family:"Liberation Serif", serif;font-size:12.9px'>release. The power rear window will carry out a</text>
<text x="637" y="1617.3" fill="#1e1e1e" style='font-family:"Liberation Serif", serif;font-size:12.9px'>one-touch down operation until the window</text>
<text x="637" y="1631.9" fill="#1e1e1e" style='font-family:"Liberation Serif", serif;font-size:12.9px'>stalls at the bottom of the travel stop designed</text>
<text x="637" y="1646.5" fill="#1e1e1e" style='font-family:"Liberation Serif", serif;font-size:12.9px'>into the window  regulator.</text>
<text x="912.5" y="1181.0" fill="#1e1e1e" style='font-family:"Liberation Serif", serif;font-size:12.9px'>9.</text>
<text x="934.2" y="1181.0" fill="#1e1e1e" style='font-family:"Liberation Serif", serif;font-size:12.9px'>Rotate and hold the power rear window control</text>
<text x="934.2" y="1195.6" fill="#1e1e1e" style='font-family:"Liberation Serif", serif;font-size:12.9px'>switch to the CLOSE position. Continue to hold</text>
<text x="934.2" y="1210.2" fill="#1e1e1e" style='font-family:"Liberation Serif", serif;font-size:12.9px'>the switch until after the window stalls into the</text>
<text x="934.2" y="1224.8" fill="#1e1e1e" style='font-family:"Liberation Serif", serif;font-size:12.9px'>upper header seal and carries out the down-up</text>
<text x="934.2" y="1239.4" fill="#1e1e1e" style='font-family:"Liberation Serif", serif;font-size:12.9px'>movement. This down-up movement is</text>
<text x="934.2" y="1254.0" fill="#1e1e1e" style='font-family:"Liberation Serif", serif;font-size:12.9px'>approximately 20 mm  (0.8 in). This movement</text>
<text x="934.2" y="1268.6" fill="#1e1e1e" style='font-family:"Liberation Serif", serif;font-size:12.9px'>indicates that the power rear window motor has</text>
<text x="934.2" y="1283.2" fill="#1e1e1e" style='font-family:"Liberation Serif", serif;font-size:12.9px'>been successfully initialized.</text>
<text x="910" y="1503.5" fill="#1e1e1e" style='font-family:"Liberation Serif", serif;font-size:12.9px'>10.</text>
<text x="934.2" y="1503.5" fill="#1e1e1e" style='font-family:"Liberation Serif", serif;font-size:12.9px'>Verify correct operation of the power rear</text>
<text x="934.2" y="1518.1" fill="#1e1e1e" style='font-family:"Liberation Serif", serif;font-size:12.9px'>window by moving the window to the fully</text>
<text x="934.2" y="1532.7" fill="#1e1e1e" style='font-family:"Liberation Serif", serif;font-size:12.9px'>open, vent, then fully closed positions. If the</text>
<text x="934.2" y="1547.3" fill="#1e1e1e" style='font-family:"Liberation Serif", serif;font-size:12.9px'>window does not operate correctly, carefully</text>
<text x="934.2" y="1561.9" fill="#1e1e1e" style='font-family:"Liberation Serif", serif;font-size:12.9px'>repeat this procedure.</text>
<defs><g id="sw"><path d="M10,15.3 L70.7,15.3 C76,15.3 80,11 81.3,6" fill="none" stroke="#111" stroke-width="1.1"/>
<path d="M10,30 L28,30 C33,30 37.3,35 37.3,42.7 L37.3,139.3" fill="none" stroke="#111" stroke-width="1.1"/>
<line x1="142" y1="7.3" x2="142" y2="140.7" stroke="#222" stroke-width="1"/>
<line x1="151.3" y1="7.3" x2="151.3" y2="140.7" stroke="#222" stroke-width="1"/>
<path d="M46,32 Q46,28.5 50,27.5 Q89.5,11 129,27.5 Q133.5,28.5 133.5,32 L134,53.5 Q134,57.5 130,57 Q90,43 50,57 Q47,57.5 47,54 Z" fill="none" stroke="#222" stroke-width="1"/>
<path d="M48.8,33 Q49,30.5 52,30 Q89.5,15 127,30 Q131,30.5 131,33 L131.2,52 Q131,54.5 128,54.3 Q90,41 52,54.3 Q49.5,54.5 49.5,52 Z" fill="none" stroke="#333" stroke-width="0.9" stroke-dasharray="9,1.5"/>
<path d="M51.3,34 Q89.5,19.5 128,34 L128.5,50.5 Q90,42.5 51.3,51 Z" fill="none" stroke="#222" stroke-width="1"/>
<path d="M88.7,30.8 Q72,30.5 62,35.2" fill="none" stroke="#000" stroke-width="2.4"/>
<path d="M57.5,37 L63.5,32 L65,36.5 Z" fill="#000" stroke="#000" stroke-width="0.6"/>
<path d="M93,30.8 Q108,30.5 118,35.2" fill="none" stroke="#000" stroke-width="2.4"/>
<path d="M122.5,37 L116.5,32 L115,36.5 Z" fill="#000" stroke="#000" stroke-width="0.6"/>
<rect x="80.5" y="33.5" width="19.5" height="10" fill="none" stroke="#111" stroke-width="1"/>
<line x1="82" y1="36.8" x2="98.5" y2="36.8" stroke="#000" stroke-width="1.6"/>
<path d="M88.3,37.5 L91.7,37.5 L90,40 Z" fill="#000"/>
<text x="57" y="48" transform="translate(57 48) scale(0.8 1) translate(-57 -48)" style="font-size:14px;letter-spacing:0px;stroke:#000;stroke-width:0.35">DN</text>
<text x="109.5" y="48" transform="translate(109.5 48) scale(0.8 1) translate(-109.5 -48)" style="font-size:14px;letter-spacing:0px;stroke:#000;stroke-width:0.35">UP</text>
<circle cx="88.7" cy="95.3" r="45.5" fill="none" stroke="#333" stroke-width="0.9" stroke-dasharray="30,2,12,3"/>
<circle cx="88.7" cy="95.3" r="34.5" fill="none" stroke="#333" stroke-width="0.9" stroke-dasharray="25,3,9,2"/>
<circle cx="88.7" cy="95.5" r="28.4" fill="none" stroke="#222" stroke-width="1"/>
<circle cx="88.7" cy="95.8" r="26.2" fill="none" stroke="#555" stroke-width="0.8"/>
<circle cx="89.5" cy="96" r="24" fill="none" stroke="#222" stroke-width="1"/>
<path d="M85.5,72.5 L86,78 Q89.2,83 92.5,78 L92.5,72.5" fill="none" stroke="#777" stroke-width="0.8"/>
<text x="88.9" y="91.7" text-anchor="middle" transform="translate(88.9 91.7) scale(0.82 1) translate(-88.9 -91.7)" style="font-size:11.6px;letter-spacing:0px;stroke:#000;stroke-width:0.2">PUSH</text>
<text x="90.0" y="101.7" text-anchor="middle" transform="translate(90.0 101.7) scale(0.82 1) translate(-90.0 -101.7)" style="font-size:11.6px;letter-spacing:0px;stroke:#000;stroke-width:0.2">TO</text>
<text x="90.0" y="111.7" text-anchor="middle" transform="translate(90.0 111.7) scale(0.82 1) translate(-90.0 -111.7)" style="font-size:11.6px;letter-spacing:0px;stroke:#000;stroke-width:0.2">VENT</text></g></defs>
<use href="#sw" x="355" y="1337.7"/>
<g transform="translate(355 1337.7)"><path d="M110,118.3 L123,117.2 L119.3,120.7 L120.7,122.5 L111.7,128.3 L106.2,129.5 Z" fill="#000" stroke="#000" stroke-width="0.8"/><path d="M114.3,132.7 L123.3,126 L125.8,128.3 L116.3,135.3 Z" fill="#000" stroke="#000" stroke-width="0.8"/><path d="M119.3,139 L128.3,132.7 L130.8,134.8 L121.3,141.5 Z" fill="#000" stroke="#000" stroke-width="0.8"/></g>
<use href="#sw" x="660" y="1030"/>
<g transform="translate(660 1030)"><path d="M110,118.3 L123,117.2 L119.3,120.7 L120.7,122.5 L111.7,128.3 L106.2,129.5 Z" fill="#000" stroke="#000" stroke-width="0.8"/><path d="M114.3,132.7 L123.3,126 L125.8,128.3 L116.3,135.3 Z" fill="#000" stroke="#000" stroke-width="0.8"/><path d="M119.3,139 L128.3,132.7 L130.8,134.8 L121.3,141.5 Z" fill="#000" stroke="#000" stroke-width="0.8"/></g>
<use href="#sw" x="658" y="1380.2"/>
<g transform="translate(658 1380.2)"><path d="M111.7,69.1 L120.4,62.25 L124.8,65.6 L115.4,71.8 Z" fill="#000" stroke="#000" stroke-width="0.8"/><path d="M118.3,74.75 L127.9,69.1 L131.7,73.1 L120.8,77.7 Z" fill="#000" stroke="#000" stroke-width="0.8"/><path d="M122.9,80.8 L134.2,77.25 L140.8,79.75 L132.5,87.7 L120.4,85.6 L124.2,83.5 Z" fill="#000" stroke="#000" stroke-width="0.8"/></g>
<use href="#sw" x="955" y="991.5"/>
<g transform="translate(955 991.5)"><path d="M54.4,59.1 L58.75,56.6 L66.9,63.1 L63.1,65.8 Z" fill="#000" stroke="#000" stroke-width="0.8"/><path d="M47.3,66.2 L50.8,62.9 L60.6,68.9 L57.9,71.8 Z" fill="#000" stroke="#000" stroke-width="0.8"/><path d="M37.5,73.9 L44.2,71.2 L55.8,75 L54.6,78.5 L58.75,79.75 L45.4,81 Z" fill="#000" stroke="#000" stroke-width="0.8"/></g>
<use href="#sw" x="955" y="1311.5"/>
<g transform="translate(955 1311.5)"><path d="M111.7,69.1 L120.4,62.25 L124.8,65.6 L115.4,71.8 Z" fill="#000" stroke="#000" stroke-width="0.8"/><path d="M118.3,74.75 L127.9,69.1 L131.7,73.1 L120.8,77.7 Z" fill="#000" stroke="#000" stroke-width="0.8"/><path d="M122.9,80.8 L134.2,77.25 L140.8,79.75 L132.5,87.7 L120.4,85.6 L124.2,83.5 Z" fill="#000" stroke="#000" stroke-width="0.8"/></g>
<defs><g id="stw"><path d="M57.4,15.7 L58.5,10.3 L73.7,9.75 L74.2,15.7" fill="none" stroke="#111" stroke-width="1.2"/>
<line x1="58" y1="14" x2="74" y2="14" stroke="#444" stroke-width="0.8"/>
<path d="M15.2,32.5 L26.5,21.7 L30.3,24.9 M15.2,32.5 L17.9,36.3" fill="none" stroke="#111" stroke-width="1.1"/>
<path d="M90.5,24.4 L98.6,19.5 L119.2,39 L116.5,46.6" fill="none" stroke="#111" stroke-width="1.1"/>
<path d="M93,27 L99,23.5 L116,40" fill="none" stroke="#444" stroke-width="0.8"/>
<path d="M15.2,36.8 C10,45 6,60 5.4,75.8 L4.9,108.3 C5,118 5.5,122 6,124.6 C7,133 11,138 16.3,138.7 L108.3,138.7 C115,138 119.5,133 120.3,124.6 C121,118 121.3,112 121.3,108.3 L120.8,75.8 C120.5,62 119,55 113.8,43.3" fill="none" stroke="#111" stroke-width="1.1"/>
<circle cx="63.4" cy="70.4" r="51.5" fill="none" stroke="#111" stroke-width="1.1"/>
<circle cx="63.4" cy="70.4" r="45.5" fill="none" stroke="#111" stroke-width="1.2"/>
<circle cx="63.4" cy="70.4" r="40" fill="none" stroke="#222" stroke-width="0.9" stroke-dasharray="40,3,20,4"/>
<path d="M30,50 A37,37 0 0 1 97,50" fill="none" stroke="#777" stroke-width="0.9" stroke-dasharray="2,1.5"/>
<rect x="31.4" y="50.4" width="66.1" height="41.1" fill="none" stroke="#111" stroke-width="1.2"/>
<rect x="34.1" y="52" width="61.8" height="38" fill="none" stroke="#222" stroke-width="0.9"/>
<line x1="39" y1="69.9" x2="90.5" y2="69.9" stroke="#888" stroke-width="0.9"/>
<path d="M6.5,121.3 Q63.4,143 120,121" fill="none" stroke="#333" stroke-width="0.9"/>
<path d="M54.2,127.8 Q75,126 93.2,120.3" fill="none" stroke="#555" stroke-width="0.9"/>
<line x1="5" y1="108" x2="15" y2="108" stroke="#444" stroke-width="0.8"/>
<line x1="111" y1="108" x2="121" y2="108" stroke="#444" stroke-width="0.8"/>
<line x1="5" y1="115" x2="15" y2="115" stroke="#444" stroke-width="0.8"/>
<line x1="111" y1="115" x2="121" y2="115" stroke="#444" stroke-width="0.8"/>
<line x1="5" y1="121" x2="15" y2="121" stroke="#444" stroke-width="0.8"/>
<line x1="111" y1="121" x2="121" y2="121" stroke="#444" stroke-width="0.8"/>
<path d="M44.4,139.8 L44.4,152.8 L80.2,153.8 L80.2,139.8" fill="none" stroke="#111" stroke-width="1.2"/>
<line x1="45" y1="142" x2="80" y2="142" stroke="#444" stroke-width="0.8"/>
<line x1="45" y1="150.6" x2="80" y2="150.6" stroke="#444" stroke-width="0.8"/></g></defs>
<use href="#stw" x="320" y="1075"/>
<text x="366.6" y="1158.6" textLength="35.7" lengthAdjust="spacingAndGlyphs" style="font-size:12.2px;letter-spacing:0px">00'30"</text>
<text x="403.5" y="1158.4" textLength="8.5" lengthAdjust="spacingAndGlyphs" style="font-size:6.5px;letter-spacing:0px">00</text>
<rect x="361" y="1150.5" width="2" height="3" fill="none" stroke="#000" stroke-width="0.6"/>
<use href="#stw" x="443.75" y="1075"/>
<text x="490.35" y="1158.6" textLength="35.7" lengthAdjust="spacingAndGlyphs" style="font-size:12.2px;letter-spacing:0px">05'00"</text>
<text x="527.25" y="1158.4" textLength="8.5" lengthAdjust="spacingAndGlyphs" style="font-size:6.5px;letter-spacing:0px">00</text>
<rect x="484.75" y="1150.5" width="2" height="3" fill="none" stroke="#000" stroke-width="0.6"/>
<line x1="579.5" y1="1075" x2="579.5" y2="1235" stroke="#eee" stroke-width="1"/>
<line x1="1182.5" y1="997" x2="1182.5" y2="1132" stroke="#eee" stroke-width="1"/>
</svg>
</body></html>
